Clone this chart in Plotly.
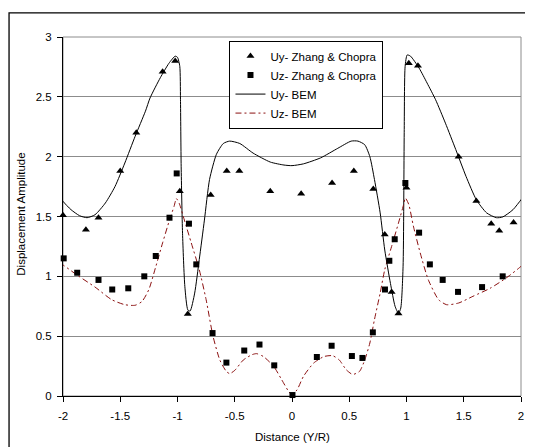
import plotly.graph_objects as go

# ---- data ----
uy_zc_x = [-2.0, -1.80, -1.69, -1.50, -1.36, -1.13, -1.02, -0.98, -0.91, -0.71, -0.57, -0.46,
           -0.19, 0.08, 0.35, 0.54, 0.71, 0.81, 0.87, 0.93, 1.00, 1.02, 1.10, 1.455, 1.61,
           1.74, 1.81, 1.935]
uy_zc_y = [1.51, 1.39, 1.49, 1.88, 2.20, 2.71, 2.80, 1.71, 0.685, 1.68, 1.88, 1.88,
           1.71, 1.69, 1.78, 1.88, 1.73, 1.35, 0.87, 0.69, 1.74, 2.78, 2.76, 2.00, 1.63,
           1.44, 1.38, 1.45]

uz_zc_x = [-1.994, -1.876, -1.69, -1.57, -1.43, -1.29, -1.19, -1.07, -1.007, -0.90, -0.836,
           -0.694, -0.573, -0.417, -0.284, -0.155, 0.004, 0.217, 0.346, 0.523, 0.615, 0.706,
           0.812, 0.85, 0.897, 0.99, 1.11, 1.204, 1.316, 1.45, 1.66, 1.84]
uz_zc_y = [1.15, 1.03, 0.97, 0.89, 0.90, 1.00, 1.17, 1.49, 1.86, 1.44, 1.10,
           0.526, 0.279, 0.38, 0.43, 0.256, 0.008, 0.326, 0.42, 0.334, 0.318, 0.532,
           0.89, 1.13, 1.31, 1.78, 1.365, 1.10, 0.97, 0.87, 0.91, 1.00]

uy_bem_x = [-2.03, -2.0, -1.93, -1.856, -1.79, -1.72, -1.63, -1.546, -1.46, -1.37, -1.28,
            -1.24, -1.15, -1.075, -1.02, -1.0, -0.98, -0.974, -0.968, -0.956, -0.936, -0.91,
            -0.89, -0.85, -0.81, -0.765, -0.72, -0.66, -0.60, -0.544, -0.456, -0.34, -0.19,
            -0.07, 0.0, 0.10, 0.25, 0.40, 0.517, 0.576, 0.635, 0.68, 0.72, 0.77, 0.81, 0.86,
            0.90, 0.93, 0.95, 0.97, 0.98, 0.988, 1.006, 1.035, 1.11, 1.18, 1.254, 1.34, 1.43,
            1.52, 1.61, 1.70, 1.785, 1.84, 1.93, 2.0, 2.03]
uy_bem_y = [1.674, 1.627, 1.557, 1.507, 1.49, 1.515, 1.613, 1.75, 1.947, 2.17, 2.38,
            2.49, 2.66, 2.78, 2.84, 2.83, 2.755, 2.48, 1.92, 1.36, 0.917, 0.72,
            0.71, 0.86, 1.14, 1.47, 1.81, 2.02, 2.11, 2.13, 2.11, 2.03, 1.955,
            1.93, 1.925, 1.94, 1.99, 2.07, 2.13, 2.13, 2.10, 2.00, 1.81, 1.53, 1.22, 0.94,
            0.75, 0.69, 0.735, 1.08, 2.20, 2.755, 2.85, 2.84, 2.74, 2.615, 2.476, 2.28, 2.06,
            1.835, 1.64, 1.53, 1.49, 1.496, 1.557, 1.64, 1.68]

uz_bem_x = [-2.03, -2.0, -1.87, -1.72, -1.575, -1.46, -1.37, -1.31, -1.25, -1.19, -1.13,
            -1.07, -1.03, -1.01, -0.985, -0.94, -0.88, -0.81, -0.75, -0.69, -0.63, -0.574,
            -0.544, -0.50, -0.426, -0.35, -0.31, -0.25, -0.16, -0.09, -0.03, 0.0, 0.045,
            0.10, 0.19, 0.28, 0.355, 0.414, 0.473, 0.53, 0.59, 0.635, 0.68, 0.72, 0.77,
            0.81, 0.87, 0.93, 0.975, 0.99, 1.02, 1.06, 1.12, 1.19, 1.28, 1.35, 1.455, 1.58,
            1.73, 1.87, 2.0, 2.03]
uz_bem_y = [1.11, 1.095, 1.006, 0.91, 0.805, 0.763, 0.758, 0.79, 0.89, 1.08, 1.28,
            1.47, 1.585, 1.65, 1.61, 1.47, 1.28, 1.056, 0.805, 0.50, 0.30, 0.206,
            0.187, 0.214, 0.30, 0.345, 0.354, 0.33, 0.248, 0.136, 0.039, 0.01, 0.053,
            0.164, 0.276, 0.33, 0.337, 0.30, 0.22, 0.18, 0.206, 0.30, 0.443, 0.638, 0.86,
            1.056, 1.25, 1.446, 1.60, 1.655, 1.60, 1.42, 1.195, 0.972, 0.805, 0.763, 0.777,
            0.833, 0.90, 0.986, 1.084, 1.12]

x_tick_vals = [-2, -1.5, -1, -0.5, 0, 0.5, 1, 1.5, 2]
x_tick_labels = ['-2', '-1.5', '-1', '-0.5', '0', '0.5', '1', '1.5', '2']
y_tick_vals = [0, 0.5, 1, 1.5, 2, 2.5, 3]
y_tick_labels = ['0', '0.5', '1', '1.5', '2', '2.5', '3']

FONT = "Liberation Sans, Arial, sans-serif"
FS = 11.5

fig = go.Figure()
fig.add_trace(go.Scatter(x=uy_bem_x, y=uy_bem_y, mode='lines', name='Uy- BEM',
                         line=dict(color='black', width=1, shape='spline', smoothing=0.6),
                         legendrank=3))
fig.add_trace(go.Scatter(x=uz_bem_x, y=uz_bem_y, mode='lines', name='Uz- BEM',
                         line=dict(color='#8B1010', width=1, dash='6px,3px,2px,3px',
                                   shape='spline', smoothing=0.6),
                         legendrank=4))
fig.add_trace(go.Scatter(x=uy_zc_x, y=uy_zc_y, mode='markers', name='Uy- Zhang & Chopra',
                         marker=dict(symbol='triangle-up', size=7, color='black'),
                         cliponaxis=False, legendrank=1))
fig.add_trace(go.Scatter(x=uz_zc_x, y=uz_zc_y, mode='markers', name='Uz- Zhang & Chopra',
                         marker=dict(symbol='square', size=6, color='black'),
                         cliponaxis=False, legendrank=2))

# page body has an 8px margin, so the figure is 8px smaller and margins shifted
fig.update_layout(
    width=525, height=439,
    margin=dict(l=55, r=9, t=29, b=51),
    paper_bgcolor='white', plot_bgcolor='white',
    font=dict(family=FONT, size=FS, color='black'),
    showlegend=True,
    legend=dict(x=0.3635, y=0.99, xanchor='left', yanchor='top',
                bgcolor='white', bordercolor='black', borderwidth=1,
                font=dict(family=FONT, size=FS, color='black'),
                itemwidth=30, tracegroupgap=0),
    xaxis=dict(range=[-2, 2], tickvals=x_tick_vals, ticktext=x_tick_labels,
               showgrid=False, zeroline=False, showline=True, linecolor='black',
               linewidth=1, ticks='outside', ticklen=5, tickcolor='black',
               ticklabelstandoff=4,
               tickfont=dict(family=FONT, size=FS, color='black')),
    yaxis=dict(range=[0, 3], tickvals=y_tick_vals, ticktext=y_tick_labels,
               showgrid=True, gridcolor='#8c8c8c', gridwidth=1, zeroline=False,
               showline=True, linecolor='black', linewidth=1, ticks='outside',
               ticklen=5, tickcolor='black', ticklabelstandoff=3,
               tickfont=dict(family=FONT, size=FS, color='black')),
    shapes=[
        dict(type='rect', xref='paper', yref='paper', x0=0, x1=1, y0=0, y1=1,
             line=dict(color='#8c8c8c', width=1), layer='below'),
        dict(type='rect', xref='paper', yref='paper', x0=-0.1178, x1=1.06, y0=-0.2, y1=1.067,
             line=dict(color='black', width=1.3), layer='below'),
    ],
    annotations=[
        dict(text='Displacement Amplitude', xref='paper', yref='paper', x=-0.0917, y=0.505,
             xanchor='center', yanchor='middle', textangle=-90, showarrow=False,
             font=dict(family=FONT, size=FS, color='black')),
        dict(text='Distance (Y/R)', xref='paper', yref='paper', x=0.5, y=-0.114,
             xanchor='center', yanchor='middle', showarrow=False,
             font=dict(family=FONT, size=FS, color='black')),
    ],
)

fig.write_html("out.html")
